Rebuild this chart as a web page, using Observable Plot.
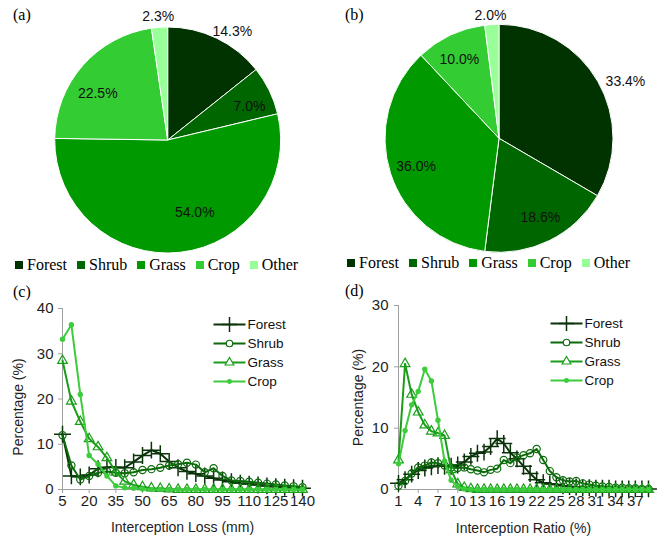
<!DOCTYPE html>
<html>
<head>
<meta charset="utf-8">
<script src="https://cdn.jsdelivr.net/npm/d3@7"></script>
<script src="https://cdn.jsdelivr.net/npm/@observablehq/plot@0.6"></script>
<style>
  html, body { margin: 0; padding: 0; background: #fff; }
  #root { position: relative; width: 664px; height: 538px; overflow: hidden; background: #fff; }
  .panel { position: absolute; }
  .tag { position: absolute; font-family: "Liberation Serif", "Times New Roman", serif; font-size: 16px; line-height: 18px; color: #000; }
  #root .pleg-swatches { min-height: 0 !important; height: 18px; margin: 0 !important; color: #000; flex-wrap: nowrap !important; width: 330px; white-space: nowrap; }
  #root .pleg-swatch { margin-right: 10px !important; }
  #root .pleg-swatch > svg { margin-right: 4px !important; }
  .lchart text { fill: #1e1e1e; }
</style>
</head>
<body>
<div id="root"></div>
<script>
// ---------- data ----------
const pieCategories = ["Forest", "Shrub", "Grass", "Crop", "Other"];
const pieShareA = [14.3, 7.0, 54.0, 22.5, 2.3];
const pieShareB = [33.4, 18.6, 36.0, 10.0, 2.0];
const landColors = ["#003300", "#006600", "#009900", "#33cc33", "#99ff99"];

const lineSeries = ["Forest", "Shrub", "Grass", "Crop"];
const lineColors = ["#0a330a", "#0b6b0b", "#1a9e1a", "#3ccc3c"];

// (c) Interception loss (mm)
const lossBins = [5, 10, 15, 20, 25, 30, 35, 40, 45, 50, 55, 60, 65, 70, 75, 80, 85, 90, 95, 100, 105, 110, 115, 120, 125, 130, 135, 140];
const lossTicks = [5, 20, 35, 50, 65, 80, 95, 110, 125, 140];
const lossYTicks = [0, 10, 20, 30, 40];
const lossForest = [12.2, 3.0, 2.8, 3.2, 4.6, 4.9, 4.9, 4.8, 6.1, 7.5, 8.7, 7.9, 6.2, 4.8, 4.0, 3.5, 3.0, 2.5, 2.1, 1.7, 1.4, 1.2, 1.0, 0.8, 0.6, 0.5, 0.4, 0.3];
const lossShrub  = [12.0, 5.3, 2.2, 3.0, 3.7, 4.0, 3.7, 3.6, 3.8, 4.3, 4.5, 4.8, 5.3, 5.6, 5.9, 5.5, 3.8, 4.7, 3.0, 2.0, 1.9, 1.7, 1.5, 1.3, 1.1, 0.9, 0.7, 0.5];
const lossGrass  = [28.5, 19.5, 15.0, 11.2, 9.4, 7.0, 3.8, 1.8, 1.0, 0.6, 0.3, 0.2, 0.1, 0, 0, 0, 0, 0, 0, 0, 0, 0, 0, 0, 0, 0, 0, 0];
const lossCrop   = [33.2, 36.4, 21.0, 7.5, 5.6, 3.0, 0.8, 0.4, 0.3, 0.1, 0, 0, 0, 0, 0, 0, 0, 0, 0, 0, 0, 0, 0, 0, 0, 0, 0, 0];

// (d) Interception ratio (%)
const ratioBins = [1, 2, 3, 4, 5, 6, 7, 8, 9, 10, 11, 12, 13, 14, 15, 16, 17, 18, 19, 20, 21, 22, 23, 24, 25, 26, 27, 28, 29, 30, 31, 32, 33, 34, 35, 36, 37, 38, 39];
const ratioTicks = [1, 4, 7, 10, 13, 16, 19, 22, 25, 28, 31, 34, 37];
const ratioYTicks = [0, 10, 20, 30];
const ratioForest = [1.0, 1.6, 2.5, 3.1, 3.5, 3.7, 3.9, 3.8, 3.8, 4.0, 4.5, 5.4, 5.9, 6.1, 7.0, 8.3, 7.5, 6.0, 5.0, 3.8, 2.6, 1.6, 1.1, 0.9, 0.8, 0.6, 0.5, 0.4, 0.3, 0.3, 0.2, 0.2, 0.2, 0.1, 0.1, 0.1, 0.1, 0.1, 0.1];
const ratioShrub  = [0.6, 1.4, 2.6, 3.6, 3.9, 4.4, 4.3, 3.9, 3.6, 3.5, 3.6, 3.3, 3.1, 2.8, 3.2, 3.4, 4.8, 4.3, 5.2, 5.6, 5.9, 6.6, 4.8, 3.0, 2.0, 1.5, 1.3, 1.4, 1.0, 0.8, 0.6, 0.5, 0.4, 0.3, 0.3, 0.2, 0.2, 0.1, 0.1];
const ratioGrass  = [4.8, 20.5, 15.5, 12.6, 10.5, 9.5, 9.2, 8.8, 3.2, 0.9, 0.3, 0.1, 0, 0, 0, 0, 0, 0, 0, 0, 0, 0, 0, 0, 0, 0, 0, 0, 0, 0, 0, 0, 0, 0, 0, 0, 0, 0, 0];
const ratioCrop   = [4.2, 9.6, 13.8, 16.0, 19.6, 17.7, 11.3, 4.6, 1.5, 0.5, 0.1, 0, 0, 0, 0, 0, 0, 0, 0, 0, 0, 0, 0, 0, 0, 0, 0, 0, 0, 0, 0, 0, 0, 0, 0, 0, 0, 0, 0];

// ---------- layout / style ----------
const labelNudgeA = [4.7, 3.1, -13.9, -7.5, -0.5];
const labelRadiusA = [1.12, 0.78, 0.68, 0.75, 1.10];
const labelNudgeB = [5.3, -1.1, -0.2, -1.6, -0.6];
const labelRadiusB = [1.215, 0.78, 0.77, 0.78, 1.08];
const axisGray = "#a0a0a0";
const sansFont = "'Liberation Sans', Arial, sans-serif";
const serifFont = "'Liberation Serif', 'Times New Roman', serif";
const markerSymbols = ["plus", "circle", "triangle", "circle"];
const markerR = [5.5, 3.6, 3.6, 2.1];

const root = document.getElementById("root");
function place(node, left, top) {
  const w = document.createElement("div");
  w.className = "panel";
  w.style.left = left + "px";
  w.style.top = top + "px";
  w.appendChild(node);
  root.appendChild(w);
  return w;
}
function tag(text, left, top) {
  const d = document.createElement("div");
  d.className = "tag";
  d.textContent = text;
  d.style.left = left + "px";
  d.style.top = top + "px";
  root.appendChild(d);
}

const landScale = Plot.scale({color: {domain: pieCategories, range: landColors}});

function piePlot(shares, nudge, radius, m) {
  const data = pieCategories.map((c, i) => ({category: c, share: shares[i]}));
  const arcs = d3.pie().sort(null).value(d => d.share)(data);
  const labels = arcs.map((a, i) => {
    const t = (a.startAngle + a.endAngle) / 2 + nudge[i] * Math.PI / 180;
    return {lx: radius[i] * Math.sin(t), ly: radius[i] * Math.cos(t), text: d3.format(".1f")(a.data.share) + "%"};
  });
  return Plot.plot({
    width: 332, height: 256,
    marginLeft: m.left, marginRight: m.right, marginTop: m.top, marginBottom: m.bottom,
    x: {domain: [-1, 1], axis: null},
    y: {domain: [-1, 1], axis: null},
    style: {background: "transparent", overflow: "visible"},
    marks: [
      (index, scales) => {
        const cx = scales.x(0), cy = scales.y(0), r = scales.x(1) - cx;
        const g = d3.create("svg:g").attr("transform", `translate(${cx},${cy})`);
        g.selectAll("path").data(arcs).join("path")
          .attr("d", d3.arc().innerRadius(0).outerRadius(r))
          .attr("fill", d => landScale.apply(d.data.category))
          .attr("stroke", "#ffffff").attr("stroke-width", 1);
        return g.node();
      },
      Plot.text(labels, {x: "lx", y: "ly", text: "text", fontSize: 14, fontFamily: sansFont, fill: "#111"})
    ]
  });
}

function pieLegend() {
  return Plot.legend({
    color: {domain: pieCategories, range: landColors},
    legend: "swatches", swatchSize: 8, className: "pleg",
    style: {fontFamily: serifFont, fontSize: "16px", color: "#000"}
  });
}

function linePlot(xs, series, xTicks, yTicks, yMax, m, xTitle, titleDx, titleDy, yTitleDy) {
  const rows = [];
  lineSeries.forEach((s, j) => xs.forEach((x, i) => rows.push({series: s, x, y: series[j][i]})));
  const marks = [
    Plot.ruleY([0], {stroke: axisGray}),
    Plot.ruleX([xs[0]], {stroke: axisGray})
  ];
  lineSeries.forEach((s, j) => {
    const sub = rows.filter(r => r.series === s);
    marks.push(Plot.line(sub, {x: "x", y: "y", stroke: "series", strokeWidth: 2}));
    marks.push(Plot.dot(sub, {x: "x", y: "y", symbol: markerSymbols[j], r: markerR[j], stroke: "series",
      fill: j === 3 ? "series" : "none", strokeWidth: j === 0 ? 1.5 : 1.2}));
  });
  marks.push(Plot.text(["Percentage (%)"], {text: d => d, frameAnchor: "left", textAnchor: "middle", lineAnchor: "middle",
    rotate: -90, dx: titleDx, dy: yTitleDy, fontSize: 14, fontFamily: sansFont}));
  marks.push(Plot.text([xTitle], {text: d => d, frameAnchor: "bottom", textAnchor: "middle", lineAnchor: "middle",
    dy: titleDy, fontSize: 14, fontFamily: sansFont}));
  return Plot.plot({
    width: 332, height: 258,
    marginLeft: m.left, marginRight: m.right, marginTop: m.top, marginBottom: m.bottom,
    className: "lchart",
    style: {fontFamily: sansFont, fontSize: "15px", color: axisGray, background: "transparent", overflow: "visible"},
    x: {domain: [xs[0], xs[xs.length - 1]], ticks: xTicks, tickSize: 4, tickPadding: 2, label: null, tickFormat: d => String(d)},
    y: {domain: [0, yMax], ticks: yTicks, tickSize: 4, tickPadding: m.pad, label: null},
    color: {domain: lineSeries, range: lineColors},
    marks
  });
}

function lineLegend() {
  const marks = [
    Plot.link(lineSeries, {x1: 0, x2: 1, y1: d => d, y2: d => d, stroke: d => d, strokeWidth: 2})
  ];
  lineSeries.forEach((s, j) => {
    marks.push(Plot.dot([s], {x: 0.5, y: d => d, symbol: markerSymbols[j], r: markerR[j] * 0.9, stroke: d => d,
      fill: j === 3 ? (d => d) : "white", strokeWidth: j === 0 ? 1.5 : 1.2}));
  });
  marks.push(Plot.text(lineSeries, {x: 1, y: d => d, text: d => d, textAnchor: "start", dx: 2, fill: "#111", fontSize: 13.5, fontFamily: sansFont}));
  return Plot.plot({
    width: 100, height: 76, margin: 0, marginLeft: 4, marginRight: 64,
    x: {domain: [0, 1], axis: null},
    y: {type: "point", domain: lineSeries, padding: 0.5, axis: null},
    color: {domain: lineSeries, range: lineColors},
    style: {background: "transparent", overflow: "visible", fontFamily: sansFont},
    marks
  });
}

// ---------- assemble ----------
place(piePlot(pieShareA, labelNudgeA, labelRadiusA, {left: 54.7, right: 51.3, top: 27, bottom: 3}), 0, 0);
place(piePlot(pieShareB, labelNudgeB, labelRadiusB, {left: 53, right: 51, top: 24.3, bottom: 3.7}), 332, 0);
place(pieLegend(), 15, 256);
place(pieLegend(), 347, 254);

place(linePlot(lossBins, [lossForest, lossShrub, lossGrass, lossCrop], lossTicks, lossYTicks, 40,
  {left: 62, right: 30, top: 28, bottom: 49, pad: 5}, "Interception Loss (mm)", -43.7, 37.7, 8), 0, 280);
place(linePlot(ratioBins, [ratioForest, ratioShrub, ratioGrass, ratioCrop], ratioTicks, ratioYTicks, 30,
  {left: 66, right: 16, top: 25, bottom: 49, pad: 6}, "Interception Ratio (%)", -39.7, 39, 0), 332, 280);
place(lineLegend(), 209, 313.8);
place(lineLegend(), 546, 312.8);

tag("(a)", 13, 6);
tag("(b)", 345, 6);
tag("(c)", 13, 283);
tag("(d)", 345, 282);
</script>
</body>
</html>
